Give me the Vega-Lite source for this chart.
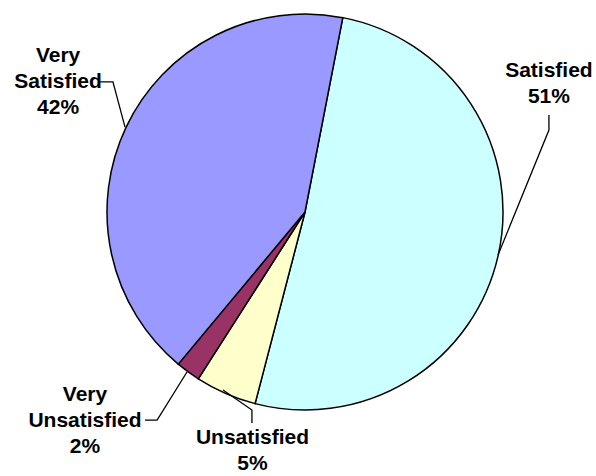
{
  "$schema": "https://vega.github.io/schema/vega-lite/v6.json",
  "width": 582,
  "height": 424,
  "autosize": {"type": "none"},
  "padding": {"left": 14, "top": 0, "right": 0, "bottom": 52},
  "background": "white",
  "config": {"view": {"stroke": null}},
  "datasets": {
    "slices": [
      {"category": "Satisfied", "share": 51, "rank": 1},
      {"category": "Unsatisfied", "share": 5, "rank": 2},
      {"category": "Very Unsatisfied", "share": 2, "rank": 3},
      {"category": "Very Satisfied", "share": 42, "rank": 4}
    ],
    "labels": [
      {"category": "Very Satisfied", "text": "Very\nSatisfied\n42%", "u": -124.7, "v": 79.0},
      {"category": "Satisfied", "text": "Satisfied\n51%", "u": 123.2, "v": 71.2},
      {"category": "Very Unsatisfied", "text": "Very\nUnsatisfied\n2%", "u": -111.1, "v": -92.4},
      {"category": "Unsatisfied", "text": "Unsatisfied\n5%", "u": -26.5, "v": -114.1}
    ],
    "leaders": [
      {"category": "Very Satisfied", "k": 1, "u": -103.5, "v": 65.7},
      {"category": "Very Satisfied", "k": 2, "u": -97.0, "v": 65.7},
      {"category": "Very Satisfied", "k": 3, "u": -90.9, "v": 42.9},
      {"category": "Satisfied", "k": 1, "u": 123.2, "v": 49.0},
      {"category": "Satisfied", "k": 2, "u": 123.2, "v": 41.4},
      {"category": "Satisfied", "k": 3, "u": 97.5, "v": -21.7},
      {"category": "Very Unsatisfied", "k": 1, "u": -80.8, "v": -105.1},
      {"category": "Very Unsatisfied", "k": 2, "u": -74.7, "v": -105.1},
      {"category": "Very Unsatisfied", "k": 3, "u": -59.6, "v": -80.8},
      {"category": "Unsatisfied", "k": 1, "u": -41.4, "v": -89.9},
      {"category": "Unsatisfied", "k": 2, "u": -26.8, "v": -100.0},
      {"category": "Unsatisfied", "k": 3, "u": -26.8, "v": -106.6}
    ]
  },
  "layer": [
    {
      "data": {"name": "slices"},
      "mark": {"type": "arc", "outerRadius": 198, "stroke": "black", "strokeWidth": 1.5},
      "encoding": {
        "theta": {"field": "share", "type": "quantitative", "stack": true, "scale": {"range": [0.192, 6.4752]}},
        "order": {"field": "rank", "type": "quantitative"},
        "color": {
          "field": "category", "type": "nominal", "legend": null,
          "scale": {"domain": ["Satisfied", "Unsatisfied", "Very Unsatisfied", "Very Satisfied"],
                    "range": ["#CCFFFF", "#FFFFCC", "#993366", "#9999FF"]}
        }
      }
    },
    {
      "data": {"name": "leaders"},
      "mark": {"type": "line", "color": "black", "strokeWidth": 1.3},
      "encoding": {
        "x": {"field": "u", "type": "quantitative", "axis": null, "scale": {"domain": [-146.97, 146.97], "nice": false, "zero": false}},
        "y": {"field": "v", "type": "quantitative", "axis": null, "scale": {"domain": [-107.07, 107.07], "nice": false, "zero": false}},
        "detail": {"field": "category"},
        "order": {"field": "k", "type": "quantitative"}
      }
    },
    {
      "data": {"name": "labels"},
      "mark": {"type": "text", "font": "Liberation Sans", "fontWeight": "bold", "fontSize": 21, "lineHeight": 26, "align": "center", "baseline": "middle", "lineBreak": "\n", "color": "black"},
      "encoding": {
        "x": {"field": "u", "type": "quantitative", "axis": null, "scale": {"domain": [-146.97, 146.97], "nice": false, "zero": false}},
        "y": {"field": "v", "type": "quantitative", "axis": null, "scale": {"domain": [-107.07, 107.07], "nice": false, "zero": false}},
        "text": {"field": "text"}
      }
    }
  ]
}
